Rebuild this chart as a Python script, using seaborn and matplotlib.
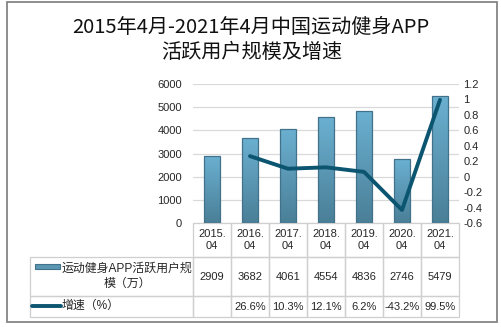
import numpy as np
import pandas as pd
import matplotlib
matplotlib.use('Agg')
import matplotlib.pyplot as plt
import seaborn as sns
from matplotlib.patches import Rectangle
from matplotlib.lines import Line2D
from matplotlib.colors import LinearSegmentedColormap

# ---------------- data ----------------
categories = ['2015.\n04', '2016.\n04', '2017.\n04', '2018.\n04', '2019.\n04', '2020.\n04', '2021.\n04']
users = [2909, 3682, 4061, 4554, 4836, 2746, 5479]
growth = [np.nan, 0.266, 0.103, 0.121, 0.062, -0.432, 0.995]
growth_labels = ['', '26.6%', '10.3%', '12.1%', '6.2%', '-43.2%', '99.5%']
left_ticks = [0, 1000, 2000, 3000, 4000, 5000, 6000]
right_ticks = [-0.6, -0.4, -0.2, 0, 0.2, 0.4, 0.6, 0.8, 1, 1.2]
series_names = ['运动健身APP活跃用户规\n模（万）', '增速（%）']
title_lines = ['2015年4月-2021年4月中国运动健身APP', '活跃用户规模及增速']

sns.set_theme(style='white')
plt.rcParams['font.family'] = ['Liberation Sans', 'Noto Sans CJK SC']

W, H = 501, 327
fig = plt.figure(figsize=(W / 100, H / 100), dpi=100)


def fx(px):
    return px / W


def fy(py):
    return 1 - py / H


AX_L, AX_R, AX_T, AX_B = 193, 459, 84, 223
ax = fig.add_axes([fx(AX_L), fy(AX_B), fx(AX_R) - fx(AX_L), fy(AX_T) - fy(AX_B)])

df = pd.DataFrame({'cat': categories, 'users': users, 'growth': growth,
                   'idx': np.arange(len(categories))})

BAR_TOP = '#6BB0D1'
BAR_BOT = '#4A7F97'
BAR_EDGE = '#41728A'
LINE_C = '#0C5570'
TXT_C = '#262626'

sns.barplot(data=df, x='cat', y='users', ax=ax, width=0.42, color=BAR_TOP, saturation=1)

cmap = LinearSegmentedColormap.from_list('bar', [BAR_BOT, BAR_TOP])
grad = np.linspace(0, 1, 100).reshape(-1, 1)
for p in list(ax.patches):
    x0, w, h = p.get_x(), p.get_width(), p.get_height()
    im = ax.imshow(grad, extent=[x0, x0 + w, 0, h], origin='lower', cmap=cmap,
                   aspect='auto', zorder=1.5)
    im.set_clip_path(p)
    p.set_facecolor('none')
    p.set_edgecolor(BAR_EDGE)
    p.set_linewidth(0.9)
    p.set_zorder(1.6)

ax.set_xlim(-0.5, len(categories) - 0.5)
ax.set_ylim(0, 6000)
ax.set_yticks(left_ticks)
ax.set_axisbelow(True)
ax.yaxis.grid(True, color='#D9D9D9', linewidth=0.9)
ax.xaxis.grid(False)
ax.set_xticklabels([])
ax.tick_params(axis='x', length=0)
ax.tick_params(axis='y', length=0, pad=8, labelsize=8, labelcolor=TXT_C)
ax.set_xlabel('')
ax.set_ylabel('')
for s in ax.spines.values():
    s.set_visible(False)

ax2 = ax.twinx()
sns.lineplot(data=df, x='idx', y='growth', ax=ax2, color=LINE_C, linewidth=2.8,
             legend=False, solid_capstyle='round')
ax2.set_xlim(-0.5, len(categories) - 0.5)
ax2.set_ylim(-0.6, 1.2)
ax2.set_yticks(right_ticks)
ax2.set_yticklabels(['{:g}'.format(t) for t in right_ticks])
ax2.tick_params(axis='y', length=0, pad=3, labelsize=8, labelcolor=TXT_C)
ax2.set_xlabel('')
ax2.set_ylabel('')
ax2.grid(False)
for s in ax2.spines.values():
    s.set_visible(False)

# ---------------- data table ----------------
ax_w = AX_R - AX_L
ax_h = AX_B - AX_T
TBL_L, TBL_B = 30, 317
row_h = {0: 34, 1: 39, 2: 21}
label_w = (AX_L - TBL_L) / ax_w
col_w = 1 / len(categories)
cell_text = [[''] + [str(v) for v in users], [''] + growth_labels]
tbl = ax.table(cellText=cell_text, colLabels=[''] + categories,
               cellLoc='center', colLoc='center',
               colWidths=[label_w] + [col_w] * len(categories),
               bbox=[-label_w, -(TBL_B - AX_B) / ax_h,
                     1 + label_w, (TBL_B - AX_B) / ax_h])
tbl.auto_set_font_size(False)
tbl.set_fontsize(8)
for (r, c), cell in tbl.get_celld().items():
    cell.set_height(row_h[r] / 100)
    cell.set_edgecolor('#CFCFCF')
    cell.set_linewidth(0.9)
    cell.set_facecolor('none')
    cell.get_text().set_color(TXT_C)
    cell.get_text().set_linespacing(1.35)
    if r == 0 and c == 0:
        cell.visible_edges = ''

# row labels with legend swatches
fig.text(fx(127), fy(276.5), series_names[0], ha='center', va='center', fontsize=8.6,
         color=TXT_C, multialignment='center', linespacing=1.35)
fig.text(fx(62), fy(306), series_names[1], ha='left', va='center', fontsize=8.6, color=TXT_C)
fig.patches.append(Rectangle((fx(35), fy(269)), fx(60) - fx(35), fy(264) - fy(269),
                             transform=fig.transFigure, facecolor='#5B97B3',
                             edgecolor=BAR_EDGE, linewidth=0.8))
fig.lines.append(Line2D([fx(32), fx(61)], [fy(306), fy(306)], transform=fig.transFigure,
                        color=LINE_C, linewidth=2.8))

# title
fig.text(0.5, fy(27), title_lines[0], ha='center', va='center', fontsize=14.5,
         family=['Noto Sans CJK SC'], color='#111111')
fig.text(0.503, fy(52), title_lines[1], ha='center', va='center', fontsize=14.5,
         family=['Noto Sans CJK SC'], color='#111111')

# outer border
fig.patches.append(Rectangle((fx(7), fy(322)), fx(497) - fx(7), fy(2) - fy(322),
                             transform=fig.transFigure, fill=False,
                             edgecolor='#858585', linewidth=1.3))

fig.savefig('out.png', dpi=100)
